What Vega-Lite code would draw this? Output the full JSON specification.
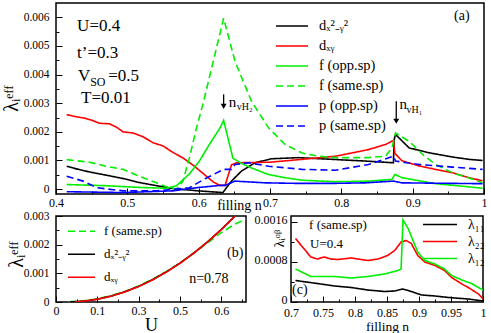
{
"$schema": "https://vega.github.io/schema/vega-lite/v6.json",
"padding": {"left": 0, "top": 2, "right": 0, "bottom": 0},
"background": "white",
"config": {
  "font": "Liberation Serif, Times New Roman, serif",
  "view": {"stroke": "black", "strokeWidth": 1.5},
  "axis": {"domain": false, "grid": false, "tickColor": "black", "tickWidth": 1, "labelColor": "black", "titleColor": "black", "labelFont": "Liberation Serif, Times New Roman, serif", "titleFont": "Liberation Serif, Times New Roman, serif", "titleFontWeight": "normal", "labelFlush": false, "labelOverlap": false},
  "legend": {"labelFont": "Liberation Serif, Times New Roman, serif", "labelColor": "black"},
  "text": {"font": "Liberation Serif, Times New Roman, serif", "color": "black"},
  "line": {"strokeWidth": 1.6, "clip": true}
},
"datasets": {
  "a": [
    {"s": "dₓ²₋ᵧ²", "n": 0.415, "v": 0.0008},
    {"s": "dₓ²₋ᵧ²", "n": 0.428, "v": 0.00071},
    {"s": "dₓ²₋ᵧ²", "n": 0.447, "v": 0.0006},
    {"s": "dₓ²₋ᵧ²", "n": 0.47, "v": 0.00049},
    {"s": "dₓ²₋ᵧ²", "n": 0.494, "v": 0.00037},
    {"s": "dₓ²₋ᵧ²", "n": 0.517, "v": 0.00023},
    {"s": "dₓ²₋ᵧ²", "n": 0.541, "v": 0.00012},
    {"s": "dₓ²₋ᵧ²", "n": 0.564, "v": 0.00002},
    {"s": "dₓ²₋ᵧ²", "n": 0.599, "v": -0.00006},
    {"s": "dₓ²₋ᵧ²", "n": 0.634, "v": -0.00012},
    {"s": "dₓ²₋ᵧ²", "n": 0.639, "v": 0.00005},
    {"s": "dₓ²₋ᵧ²", "n": 0.646, "v": 0.00028},
    {"s": "dₓ²₋ᵧ²", "n": 0.66, "v": 0.00063},
    {"s": "dₓ²₋ᵧ²", "n": 0.679, "v": 0.00092},
    {"s": "dₓ²₋ᵧ²", "n": 0.702, "v": 0.00106},
    {"s": "dₓ²₋ᵧ²", "n": 0.74, "v": 0.0011},
    {"s": "dₓ²₋ᵧ²", "n": 0.787, "v": 0.00104},
    {"s": "dₓ²₋ᵧ²", "n": 0.834, "v": 0.00098},
    {"s": "dₓ²₋ᵧ²", "n": 0.873, "v": 0.00092},
    {"s": "dₓ²₋ᵧ²", "n": 0.874, "v": 0.00173},
    {"s": "dₓ²₋ᵧ²", "n": 0.876, "v": 0.00191},
    {"s": "dₓ²₋ᵧ²", "n": 0.895, "v": 0.00144},
    {"s": "dₓ²₋ᵧ²", "n": 0.923, "v": 0.00127},
    {"s": "dₓ²₋ᵧ²", "n": 0.956, "v": 0.00112},
    {"s": "dₓ²₋ᵧ²", "n": 0.979, "v": 0.00104},
    {"s": "dₓ²₋ᵧ²", "n": 0.998, "v": 0.001},
    {"s": "dₓᵧ", "n": 0.415, "v": 0.0026},
    {"s": "dₓᵧ", "n": 0.428, "v": 0.00253},
    {"s": "dₓᵧ", "n": 0.44, "v": 0.00248},
    {"s": "dₓᵧ", "n": 0.452, "v": 0.00239},
    {"s": "dₓᵧ", "n": 0.461, "v": 0.0023},
    {"s": "dₓᵧ", "n": 0.475, "v": 0.00228},
    {"s": "dₓᵧ", "n": 0.485, "v": 0.00216},
    {"s": "dₓᵧ", "n": 0.494, "v": 0.002},
    {"s": "dₓᵧ", "n": 0.508, "v": 0.00196},
    {"s": "dₓᵧ", "n": 0.522, "v": 0.00183},
    {"s": "dₓᵧ", "n": 0.536, "v": 0.00162},
    {"s": "dₓᵧ", "n": 0.55, "v": 0.00151},
    {"s": "dₓᵧ", "n": 0.564, "v": 0.00128},
    {"s": "dₓᵧ", "n": 0.578, "v": 0.00109},
    {"s": "dₓᵧ", "n": 0.593, "v": 0.00082},
    {"s": "dₓᵧ", "n": 0.607, "v": 0.00053},
    {"s": "dₓᵧ", "n": 0.621, "v": 0.00024},
    {"s": "dₓᵧ", "n": 0.63, "v": 0.00013},
    {"s": "dₓᵧ", "n": 0.637, "v": 0.00013},
    {"s": "dₓᵧ", "n": 0.646, "v": 0.00085},
    {"s": "dₓᵧ", "n": 0.653, "v": 0.00092},
    {"s": "dₓᵧ", "n": 0.674, "v": 0.00093},
    {"s": "dₓᵧ", "n": 0.7, "v": 0.00094},
    {"s": "dₓᵧ", "n": 0.745, "v": 0.00104},
    {"s": "dₓᵧ", "n": 0.792, "v": 0.00115},
    {"s": "dₓᵧ", "n": 0.838, "v": 0.00138},
    {"s": "dₓᵧ", "n": 0.862, "v": 0.00156},
    {"s": "dₓᵧ", "n": 0.873, "v": 0.0017},
    {"s": "dₓᵧ", "n": 0.875, "v": 0.00125},
    {"s": "dₓᵧ", "n": 0.885, "v": 0.00099},
    {"s": "dₓᵧ", "n": 0.909, "v": 0.00081},
    {"s": "dₓᵧ", "n": 0.932, "v": 0.00069},
    {"s": "dₓᵧ", "n": 0.956, "v": 0.00057},
    {"s": "dₓᵧ", "n": 0.979, "v": 0.0004},
    {"s": "dₓᵧ", "n": 0.998, "v": 0.00029},
    {"s": "f (opp.sp)", "n": 0.415, "v": 0.00016},
    {"s": "f (opp.sp)", "n": 0.47, "v": 0.00012},
    {"s": "f (opp.sp)", "n": 0.517, "v": 0.00006},
    {"s": "f (opp.sp)", "n": 0.555, "v": 0.00003},
    {"s": "f (opp.sp)", "n": 0.569, "v": 0.00012},
    {"s": "f (opp.sp)", "n": 0.587, "v": 0.00053},
    {"s": "f (opp.sp)", "n": 0.601, "v": 0.00098},
    {"s": "f (opp.sp)", "n": 0.615, "v": 0.00156},
    {"s": "f (opp.sp)", "n": 0.63, "v": 0.00214},
    {"s": "f (opp.sp)", "n": 0.635, "v": 0.0024},
    {"s": "f (opp.sp)", "n": 0.648, "v": 0.00108},
    {"s": "f (opp.sp)", "n": 0.66, "v": 0.0009},
    {"s": "f (opp.sp)", "n": 0.674, "v": 0.00074},
    {"s": "f (opp.sp)", "n": 0.698, "v": 0.00051},
    {"s": "f (opp.sp)", "n": 0.721, "v": 0.0004},
    {"s": "f (opp.sp)", "n": 0.745, "v": 0.00031},
    {"s": "f (opp.sp)", "n": 0.792, "v": 0.00026},
    {"s": "f (opp.sp)", "n": 0.838, "v": 0.00028},
    {"s": "f (opp.sp)", "n": 0.871, "v": 0.00034},
    {"s": "f (opp.sp)", "n": 0.875, "v": 0.00051},
    {"s": "f (opp.sp)", "n": 0.885, "v": 0.0004},
    {"s": "f (opp.sp)", "n": 0.932, "v": 0.00019},
    {"s": "f (opp.sp)", "n": 0.979, "v": 0.00008},
    {"s": "f (opp.sp)", "n": 0.998, "v": 0.00003},
    {"s": "f (same.sp)", "n": 0.415, "v": 0.00103},
    {"s": "f (same.sp)", "n": 0.447, "v": 0.00094},
    {"s": "f (same.sp)", "n": 0.47, "v": 0.0008},
    {"s": "f (same.sp)", "n": 0.494, "v": 0.00069},
    {"s": "f (same.sp)", "n": 0.517, "v": 0.00045},
    {"s": "f (same.sp)", "n": 0.541, "v": 0.00022},
    {"s": "f (same.sp)", "n": 0.555, "v": 0.00008},
    {"s": "f (same.sp)", "n": 0.569, "v": 0.0},
    {"s": "f (same.sp)", "n": 0.578, "v": 0.00028},
    {"s": "f (same.sp)", "n": 0.587, "v": 0.00109},
    {"s": "f (same.sp)", "n": 0.597, "v": 0.00214},
    {"s": "f (same.sp)", "n": 0.607, "v": 0.00307},
    {"s": "f (same.sp)", "n": 0.635, "v": 0.00597},
    {"s": "f (same.sp)", "n": 0.651, "v": 0.00446},
    {"s": "f (same.sp)", "n": 0.674, "v": 0.00307},
    {"s": "f (same.sp)", "n": 0.698, "v": 0.00214},
    {"s": "f (same.sp)", "n": 0.721, "v": 0.00156},
    {"s": "f (same.sp)", "n": 0.745, "v": 0.00126},
    {"s": "f (same.sp)", "n": 0.768, "v": 0.00115},
    {"s": "f (same.sp)", "n": 0.792, "v": 0.0011},
    {"s": "f (same.sp)", "n": 0.838, "v": 0.0011},
    {"s": "f (same.sp)", "n": 0.862, "v": 0.00115},
    {"s": "f (same.sp)", "n": 0.871, "v": 0.00144},
    {"s": "f (same.sp)", "n": 0.876, "v": 0.00196},
    {"s": "f (same.sp)", "n": 0.895, "v": 0.00167},
    {"s": "f (same.sp)", "n": 0.914, "v": 0.00121},
    {"s": "f (same.sp)", "n": 0.932, "v": 0.00086},
    {"s": "f (same.sp)", "n": 0.956, "v": 0.00057},
    {"s": "f (same.sp)", "n": 0.979, "v": 0.00039},
    {"s": "f (same.sp)", "n": 0.998, "v": 0.00022},
    {"s": "p (opp.sp)", "n": 0.415, "v": -0.00009},
    {"s": "p (opp.sp)", "n": 0.494, "v": -0.00012},
    {"s": "p (opp.sp)", "n": 0.564, "v": -0.00006},
    {"s": "p (opp.sp)", "n": 0.597, "v": 0.00005},
    {"s": "p (opp.sp)", "n": 0.63, "v": 0.00013},
    {"s": "p (opp.sp)", "n": 0.637, "v": 0.00013},
    {"s": "p (opp.sp)", "n": 0.651, "v": 0.00028},
    {"s": "p (opp.sp)", "n": 0.693, "v": 0.00022},
    {"s": "p (opp.sp)", "n": 0.74, "v": 0.0002},
    {"s": "p (opp.sp)", "n": 0.787, "v": 0.0002},
    {"s": "p (opp.sp)", "n": 0.834, "v": 0.00022},
    {"s": "p (opp.sp)", "n": 0.873, "v": 0.00028},
    {"s": "p (opp.sp)", "n": 0.885, "v": 0.00022},
    {"s": "p (opp.sp)", "n": 0.998, "v": 0.00019},
    {"s": "p (same.sp)", "n": 0.415, "v": 0.00045},
    {"s": "p (same.sp)", "n": 0.438, "v": 0.00028},
    {"s": "p (same.sp)", "n": 0.457, "v": 0.00005},
    {"s": "p (same.sp)", "n": 0.494, "v": -0.00006},
    {"s": "p (same.sp)", "n": 0.541, "v": -0.00006},
    {"s": "p (same.sp)", "n": 0.587, "v": 0.00005},
    {"s": "p (same.sp)", "n": 0.611, "v": 0.00039},
    {"s": "p (same.sp)", "n": 0.635, "v": 0.00069},
    {"s": "p (same.sp)", "n": 0.646, "v": 0.00069},
    {"s": "p (same.sp)", "n": 0.651, "v": 0.00086},
    {"s": "p (same.sp)", "n": 0.67, "v": 0.00092},
    {"s": "p (same.sp)", "n": 0.698, "v": 0.0008},
    {"s": "p (same.sp)", "n": 0.745, "v": 0.00069},
    {"s": "p (same.sp)", "n": 0.792, "v": 0.00066},
    {"s": "p (same.sp)", "n": 0.838, "v": 0.00086},
    {"s": "p (same.sp)", "n": 0.873, "v": 0.00115},
    {"s": "p (same.sp)", "n": 0.876, "v": 0.00098},
    {"s": "p (same.sp)", "n": 0.909, "v": 0.00086},
    {"s": "p (same.sp)", "n": 0.956, "v": 0.00077},
    {"s": "p (same.sp)", "n": 0.998, "v": 0.00069}
  ],
  "b": [
    {"s": "f (same.sp)", "U": 0.047, "v": 0.000005},
    {"s": "f (same.sp)", "U": 0.1, "v": 0.00004},
    {"s": "f (same.sp)", "U": 0.15, "v": 0.00011},
    {"s": "f (same.sp)", "U": 0.2, "v": 0.00022},
    {"s": "f (same.sp)", "U": 0.25, "v": 0.00037},
    {"s": "f (same.sp)", "U": 0.3, "v": 0.00056},
    {"s": "f (same.sp)", "U": 0.35, "v": 0.00079},
    {"s": "f (same.sp)", "U": 0.4, "v": 0.00106},
    {"s": "f (same.sp)", "U": 0.45, "v": 0.00136},
    {"s": "f (same.sp)", "U": 0.5, "v": 0.0017},
    {"s": "f (same.sp)", "U": 0.55, "v": 0.00206},
    {"s": "f (same.sp)", "U": 0.6, "v": 0.00242},
    {"s": "f (same.sp)", "U": 0.65, "v": 0.00272},
    {"s": "f (same.sp)", "U": 0.69, "v": 0.00289},
    {"s": "dₓ²₋ᵧ²", "U": 0.05, "v": 0.000001},
    {"s": "dₓ²₋ᵧ²", "U": 0.1, "v": 0.000029},
    {"s": "dₓ²₋ᵧ²", "U": 0.15, "v": 0.0000975},
    {"s": "dₓ²₋ᵧ²", "U": 0.2, "v": 0.000206},
    {"s": "dₓ²₋ᵧ²", "U": 0.25, "v": 0.000355},
    {"s": "dₓ²₋ᵧ²", "U": 0.3, "v": 0.000545},
    {"s": "dₓ²₋ᵧ²", "U": 0.35, "v": 0.000775},
    {"s": "dₓ²₋ᵧ²", "U": 0.4, "v": 0.001045},
    {"s": "dₓ²₋ᵧ²", "U": 0.45, "v": 0.001355},
    {"s": "dₓ²₋ᵧ²", "U": 0.5, "v": 0.001706},
    {"s": "dₓ²₋ᵧ²", "U": 0.55, "v": 0.002096},
    {"s": "dₓ²₋ᵧ²", "U": 0.6, "v": 0.002528},
    {"s": "dₓ²₋ᵧ²", "U": 0.65, "v": 0.003},
    {"s": "dₓ²₋ᵧ²", "U": 0.7, "v": 0.0035},
    {"s": "dₓᵧ", "U": 0.07, "v": 0.00001},
    {"s": "dₓᵧ", "U": 0.1, "v": 0.000028},
    {"s": "dₓᵧ", "U": 0.15, "v": 0.000097},
    {"s": "dₓᵧ", "U": 0.2, "v": 0.000204},
    {"s": "dₓᵧ", "U": 0.25, "v": 0.000352},
    {"s": "dₓᵧ", "U": 0.3, "v": 0.00054},
    {"s": "dₓᵧ", "U": 0.35, "v": 0.00077},
    {"s": "dₓᵧ", "U": 0.4, "v": 0.00104},
    {"s": "dₓᵧ", "U": 0.45, "v": 0.00135},
    {"s": "dₓᵧ", "U": 0.5, "v": 0.0017},
    {"s": "dₓᵧ", "U": 0.55, "v": 0.00209},
    {"s": "dₓᵧ", "U": 0.6, "v": 0.00252},
    {"s": "dₓᵧ", "U": 0.65, "v": 0.00299},
    {"s": "dₓᵧ", "U": 0.7, "v": 0.0035}
  ],
  "c": [
    {"s": "λ₁₁", "n": 0.707, "v": 0.00043},
    {"s": "λ₁₁", "n": 0.741, "v": 0.00037},
    {"s": "λ₁₁", "n": 0.768, "v": 0.00032},
    {"s": "λ₁₁", "n": 0.794, "v": 0.00029},
    {"s": "λ₁₁", "n": 0.82, "v": 0.00024},
    {"s": "λ₁₁", "n": 0.846, "v": 0.00021},
    {"s": "λ₁₁", "n": 0.862, "v": 0.00022},
    {"s": "λ₁₁", "n": 0.875, "v": 0.00026},
    {"s": "λ₁₁", "n": 0.888, "v": 0.00021},
    {"s": "λ₁₁", "n": 0.904, "v": 0.00014},
    {"s": "λ₁₁", "n": 0.925, "v": 0.00012},
    {"s": "λ₁₁", "n": 0.946, "v": 0.00009},
    {"s": "λ₁₁", "n": 0.977, "v": 0.00006},
    {"s": "λ₁₁", "n": 1.0, "v": 0.00002},
    {"s": "λ₂₂", "n": 0.707, "v": 0.00127},
    {"s": "λ₂₂", "n": 0.731, "v": 0.0009},
    {"s": "λ₂₂", "n": 0.741, "v": 0.00086},
    {"s": "λ₂₂", "n": 0.752, "v": 0.0009},
    {"s": "λ₂₂", "n": 0.762, "v": 0.00086},
    {"s": "λ₂₂", "n": 0.773, "v": 0.00085},
    {"s": "λ₂₂", "n": 0.794, "v": 0.00088},
    {"s": "λ₂₂", "n": 0.82, "v": 0.00083},
    {"s": "λ₂₂", "n": 0.836, "v": 0.00086},
    {"s": "λ₂₂", "n": 0.851, "v": 0.00093},
    {"s": "λ₂₂", "n": 0.862, "v": 0.00103},
    {"s": "λ₂₂", "n": 0.872, "v": 0.0012},
    {"s": "λ₂₂", "n": 0.88, "v": 0.00123},
    {"s": "λ₂₂", "n": 0.888, "v": 0.00117},
    {"s": "λ₂₂", "n": 0.898, "v": 0.00093},
    {"s": "λ₂₂", "n": 0.909, "v": 0.0008},
    {"s": "λ₂₂", "n": 0.925, "v": 0.00073},
    {"s": "λ₂₂", "n": 0.94, "v": 0.00063},
    {"s": "λ₂₂", "n": 0.951, "v": 0.00049},
    {"s": "λ₂₂", "n": 0.967, "v": 0.00036},
    {"s": "λ₂₂", "n": 0.977, "v": 0.00029},
    {"s": "λ₂₂", "n": 0.993, "v": 0.00016},
    {"s": "λ₂₂", "n": 1.0, "v": 0.00006},
    {"s": "λ₁₂", "n": 0.707, "v": 0.00066},
    {"s": "λ₁₂", "n": 0.731, "v": 0.00051},
    {"s": "λ₁₂", "n": 0.768, "v": 0.00051},
    {"s": "λ₁₂", "n": 0.794, "v": 0.00048},
    {"s": "λ₁₂", "n": 0.82, "v": 0.00051},
    {"s": "λ₁₂", "n": 0.846, "v": 0.00056},
    {"s": "λ₁₂", "n": 0.867, "v": 0.00063},
    {"s": "λ₁₂", "n": 0.872, "v": 0.00066},
    {"s": "λ₁₂", "n": 0.875, "v": 0.00164},
    {"s": "λ₁₂", "n": 0.883, "v": 0.00147},
    {"s": "λ₁₂", "n": 0.898, "v": 0.001},
    {"s": "λ₁₂", "n": 0.909, "v": 0.00083},
    {"s": "λ₁₂", "n": 0.925, "v": 0.00076},
    {"s": "λ₁₂", "n": 0.94, "v": 0.00066},
    {"s": "λ₁₂", "n": 0.951, "v": 0.00053},
    {"s": "λ₁₂", "n": 0.967, "v": 0.00044},
    {"s": "λ₁₂", "n": 0.982, "v": 0.00037},
    {"s": "λ₁₂", "n": 1.0, "v": 0.00024}
  ]
},
"spacing": 22,
"bounds": "flush",
"resolve": {"scale": {"color": "independent", "strokeDash": "independent"}, "legend": {"color": "independent", "strokeDash": "independent"}},
"vconcat": [
  {
    "width": 428,
    "height": 191,
    "resolve": {"axis": {"x": "independent", "y": "independent"}},
    "layer": [
      {
        "data": {"name": "a"},
        "mark": {"type": "line", "clip": true},
        "encoding": {
          "x": {"field": "n", "type": "quantitative", "scale": {"domain": [0.4, 1.0], "nice": false, "zero": false},
            "axis": {"orient": "bottom", "values": [0.4, 0.5, 0.6, 0.7, 0.8, 0.9, 1.0], "format": "~g", "labelOverlap": false, "labelFlush": false,
              "tickSize": -6, "labelPadding": 9, "labelFontSize": 12,
              "title": "filling n", "titleFontSize": 14, "titleX": 183, "titleY": 15, "titleBaseline": "alphabetic", "titleAlign": "center"}},
          "y": {"field": "v", "type": "quantitative", "scale": {"domain": [-0.00017, 0.0065], "nice": false, "zero": false},
            "axis": {"orient": "left", "values": [0, 0.001, 0.002, 0.003, 0.004, 0.005, 0.006], "format": "~g", "labelOverlap": false, "labelFlush": false,
              "tickSize": -6, "labelPadding": 13, "labelFontSize": 11.5,
              "title": "λᵢᵉᶠᶠ", "titleFontSize": 20, "titleX": -45, "titleY": 95, "titleAngle": 270, "titleBaseline": "middle", "titleAlign": "center"}},
          "color": {"field": "s", "type": "nominal",
            "scale": {"domain": ["dₓ²₋ᵧ²", "dₓᵧ", "f (opp.sp)", "f (same.sp)", "p (opp.sp)", "p (same.sp)"], "range": ["#000000", "#ff0000", "#00ee00", "#00ee00", "#0000ff", "#0000ff"]},
            "legend": {"title": null, "orient": "none", "legendX": 219, "legendY": 13, "symbolType": "stroke", "symbolSize": 1024, "symbolStrokeWidth": 1.8, "labelFontSize": 14.5, "labelOffset": 10, "clipHeight": 20, "rowPadding": 0, "padding": 0, "labelLimit": 200}},
          "strokeDash": {"field": "s", "type": "nominal",
            "scale": {"domain": ["dₓ²₋ᵧ²", "dₓᵧ", "f (opp.sp)", "f (same.sp)", "p (opp.sp)", "p (same.sp)"], "range": [[1, 0], [1, 0], [1, 0], [7, 4], [1, 0], [7, 4]]},
            "legend": {"title": null, "orient": "none", "legendX": 219, "legendY": 13, "symbolType": "stroke", "symbolSize": 1024, "symbolStrokeWidth": 1.8, "labelFontSize": 14.5, "labelOffset": 10, "clipHeight": 20, "rowPadding": 0, "padding": 0, "labelLimit": 200}}
        }
      },
      {"data": {"values": [{}]}, "mark": {"type": "text", "text": "U=0.4", "align": "left", "baseline": "middle", "fontSize": 17}, "encoding": {"x": {"datum": 0.4296, "axis": null}, "y": {"datum": 0.00568, "axis": null}}},
      {"data": {"values": [{}]}, "mark": {"type": "text", "text": "t’=0.3", "align": "left", "baseline": "middle", "fontSize": 17}, "encoding": {"x": {"datum": 0.4296, "axis": null}, "y": {"datum": 0.00474, "axis": null}}},
      {"data": {"values": [{}]}, "mark": {"type": "text", "text": "V", "align": "left", "baseline": "middle", "fontSize": 17}, "encoding": {"x": {"datum": 0.431, "axis": null}, "y": {"datum": 0.00394, "axis": null}}},
      {"data": {"values": [{}]}, "mark": {"type": "text", "text": "SO", "align": "left", "baseline": "middle", "fontSize": 12}, "encoding": {"x": {"datum": 0.4479, "axis": null}, "y": {"datum": 0.00373, "axis": null}}},
      {"data": {"values": [{}]}, "mark": {"type": "text", "text": "=0.5", "align": "left", "baseline": "middle", "fontSize": 17}, "encoding": {"x": {"datum": 0.4732, "axis": null}, "y": {"datum": 0.00394, "axis": null}}},
      {"data": {"values": [{}]}, "mark": {"type": "text", "text": "T=0.01", "align": "left", "baseline": "middle", "fontSize": 17}, "encoding": {"x": {"datum": 0.4352, "axis": null}, "y": {"datum": 0.00317, "axis": null}}},
      {"data": {"values": [{}]}, "mark": {"type": "text", "text": "n", "align": "left", "baseline": "middle", "fontSize": 15}, "encoding": {"x": {"datum": 0.6423, "axis": null}, "y": {"datum": 0.00303, "axis": null}}},
      {"data": {"values": [{}]}, "mark": {"type": "text", "text": "vH₂", "align": "left", "baseline": "middle", "fontSize": 10}, "encoding": {"x": {"datum": 0.6535, "axis": null}, "y": {"datum": 0.00286, "axis": null}}},
      {"data": {"values": [{}]}, "mark": {"type": "text", "text": "n", "align": "left", "baseline": "middle", "fontSize": 15}, "encoding": {"x": {"datum": 0.8817, "axis": null}, "y": {"datum": 0.00296, "axis": null}}},
      {"data": {"values": [{}]}, "mark": {"type": "text", "text": "vH₁", "align": "left", "baseline": "middle", "fontSize": 10}, "encoding": {"x": {"datum": 0.8915, "axis": null}, "y": {"datum": 0.00275, "axis": null}}},
      {"data": {"values": [{}]}, "mark": {"type": "text", "text": "(a)", "align": "center", "baseline": "middle", "fontSize": 14},
        "encoding": {
          "x": {"datum": 0.969, "axis": {"orient": "bottom", "values": [0.45, 0.55, 0.65, 0.75, 0.85, 0.95], "labels": false, "tickSize": -3, "title": null}},
          "y": {"datum": 0.00603, "axis": {"orient": "left", "values": [0.0005, 0.0015, 0.0025, 0.0035, 0.0045, 0.0055], "labels": false, "tickSize": -3, "title": null}}}},
      {"data": {"values": [{}]}, "mark": {"type": "rule", "strokeWidth": 1.3, "color": "black"}, "encoding": {"x": {"datum": 0.635, "axis": null}, "y": {"datum": 0.00331, "axis": null}, "y2": {"datum": 0.0029}}},
      {"data": {"values": [{}]}, "mark": {"type": "point", "shape": "triangle-down", "filled": true, "size": 35, "color": "black", "opacity": 1}, "encoding": {"x": {"datum": 0.635, "axis": null}, "y": {"datum": 0.00289, "axis": null}}},
      {"data": {"values": [{}]}, "mark": {"type": "rule", "strokeWidth": 1.3, "color": "black"}, "encoding": {"x": {"datum": 0.877, "axis": null}, "y": {"datum": 0.00307, "axis": null}, "y2": {"datum": 0.00238}}},
      {"data": {"values": [{}]}, "mark": {"type": "point", "shape": "triangle-down", "filled": true, "size": 35, "color": "black", "opacity": 1}, "encoding": {"x": {"datum": 0.877, "axis": null}, "y": {"datum": 0.00237, "axis": null}}}
    ]
  },
  {
    "hconcat": [
      {
        "width": 190,
        "height": 86,
        "resolve": {"axis": {"x": "independent", "y": "independent"}},
        "layer": [
          {
            "data": {"name": "b"},
            "mark": {"type": "line", "clip": true},
            "encoding": {
              "x": {"field": "U", "type": "quantitative", "scale": {"domain": [0, 0.69], "nice": false, "zero": false},
                "axis": {"orient": "bottom", "values": [0, 0.15, 0.3, 0.45, 0.6], "format": "~g", "labelOverlap": false, "labelFlush": false,
                  "tickSize": -6, "labelPadding": 9, "labelFontSize": 12,
                  "title": "U", "titleFontSize": 18, "titlePadding": 0}},
              "y": {"field": "v", "type": "quantitative", "scale": {"domain": [0, 0.003], "nice": false, "zero": false},
                "axis": {"orient": "left", "values": [0, 0.001, 0.002, 0.003], "format": "~g", "labelOverlap": false, "labelFlush": false,
                  "tickSize": -6, "labelPadding": 13, "labelFontSize": 11.5,
                  "title": "λᵢᵉᶠᶠ", "titleFontSize": 20, "titleX": -40, "titleY": 38, "titleAngle": 270, "titleBaseline": "middle", "titleAlign": "center"}},
              "color": {"field": "s", "type": "nominal",
                "scale": {"domain": ["f (same.sp)", "dₓ²₋ᵧ²", "dₓᵧ"], "range": ["#00ee00", "#000000", "#ff0000"]},
                "legend": {"title": null, "orient": "none", "legendX": 11, "legendY": 4, "symbolType": "stroke", "symbolSize": 729, "symbolStrokeWidth": 1.8, "labelFontSize": 13, "labelOffset": 8, "clipHeight": 22.5, "rowPadding": 0, "padding": 0, "labelLimit": 200}},
              "strokeDash": {"field": "s", "type": "nominal",
                "scale": {"domain": ["f (same.sp)", "dₓ²₋ᵧ²", "dₓᵧ"], "range": [[7, 4], [1, 0], [1, 0]]},
                "legend": {"title": null, "orient": "none", "legendX": 11, "legendY": 4, "symbolType": "stroke", "symbolSize": 729, "symbolStrokeWidth": 1.8, "labelFontSize": 13, "labelOffset": 8, "clipHeight": 22.5, "rowPadding": 0, "padding": 0, "labelLimit": 200}}
            }
          },
          {"data": {"values": [{}]}, "mark": {"type": "text", "text": "n=0.78", "align": "left", "baseline": "middle", "fontSize": 14}, "encoding": {"x": {"datum": 0.4836, "axis": null}, "y": {"datum": 0.0008, "axis": null}}},
          {"data": {"values": [{}]}, "mark": {"type": "text", "text": "(b)", "align": "left", "baseline": "middle", "fontSize": 14},
            "encoding": {
              "x": {"datum": 0.621, "axis": {"orient": "bottom", "values": [0.075, 0.225, 0.375, 0.525, 0.675], "labels": false, "tickSize": -3, "title": null}},
              "y": {"datum": 0.00171, "axis": {"orient": "left", "values": [0.0005, 0.0015, 0.0025], "labels": false, "tickSize": -3, "title": null}}}}
        ]
      },
      {
        "width": 192,
        "height": 86,
        "resolve": {"axis": {"x": "independent", "y": "independent"}},
        "layer": [
          {
            "data": {"name": "c"},
            "mark": {"type": "line", "clip": true},
            "encoding": {
              "x": {"field": "n", "type": "quantitative", "scale": {"domain": [0.7, 1.0], "nice": false, "zero": false},
                "axis": {"orient": "bottom", "values": [0.7, 0.75, 0.8, 0.85, 0.9, 0.95, 1.0], "format": "~g", "labelOverlap": false, "labelFlush": false,
                  "tickSize": -6, "labelPadding": 11, "labelFontSize": 12,
                  "title": "filling n", "titleFontSize": 13.5, "titlePadding": 1}},
              "y": {"field": "v", "type": "quantitative", "scale": {"domain": [0, 0.00172], "nice": false, "zero": false},
                "axis": {"orient": "left", "values": [0, 0.0008, 0.0016], "format": "~g", "labelOverlap": false, "labelFlush": false,
                  "tickSize": -6, "labelPadding": 10, "labelFontSize": 12, "labelOffset": -3,
                  "title": "λᵢᵅᵝ", "titleFontSize": 14, "titleX": -12, "titleY": 22, "titleAngle": 270, "titleBaseline": "middle", "titleAlign": "center"}},
              "color": {"field": "s", "type": "nominal",
                "scale": {"domain": ["λ₁₁", "λ₂₂", "λ₁₂"], "range": ["#000000", "#ff0000", "#00ee00"]},
                "legend": {"title": null, "orient": "none", "legendX": 131, "legendY": 0, "symbolType": "stroke", "symbolSize": 1156, "symbolStrokeWidth": 1.8, "labelFontSize": 14, "labelOffset": 10, "clipHeight": 17, "rowPadding": 0, "padding": 0, "labelLimit": 200}},
              "strokeDash": {"field": "s", "type": "nominal",
                "scale": {"domain": ["λ₁₁", "λ₂₂", "λ₁₂"], "range": [[1, 0], [1, 0], [1, 0]]},
                "legend": {"title": null, "orient": "none", "legendX": 131, "legendY": 0, "symbolType": "stroke", "symbolSize": 1156, "symbolStrokeWidth": 1.8, "labelFontSize": 14, "labelOffset": 10, "clipHeight": 17, "rowPadding": 0, "padding": 0, "labelLimit": 200}}
            }
          },
          {"data": {"values": [{}]}, "mark": {"type": "text", "text": "f (same.sp)", "align": "left", "baseline": "middle", "fontSize": 13}, "encoding": {"x": {"datum": 0.7283, "axis": null}, "y": {"datum": 0.00154, "axis": null}}},
          {"data": {"values": [{}]}, "mark": {"type": "text", "text": "U=0.4", "align": "left", "baseline": "middle", "fontSize": 13}, "encoding": {"x": {"datum": 0.7298, "axis": null}, "y": {"datum": 0.00117, "axis": null}}},
          {"data": {"values": [{}]}, "mark": {"type": "text", "text": "(c)", "align": "left", "baseline": "middle", "fontSize": 14},
            "encoding": {
              "x": {"datum": 0.7016, "axis": {"orient": "bottom", "values": [0.725, 0.775, 0.825, 0.875, 0.925, 0.975], "labels": false, "tickSize": -3, "title": null}},
              "y": {"datum": 0.00024, "axis": {"orient": "left", "values": [0.0004, 0.0012], "labels": false, "tickSize": -3, "title": null}}}}
        ]
      }
    ],
    "spacing": 45,
    "bounds": "flush",
    "resolve": {"scale": {"color": "independent", "strokeDash": "independent"}, "legend": {"color": "independent", "strokeDash": "independent"}}
  }
]
}
